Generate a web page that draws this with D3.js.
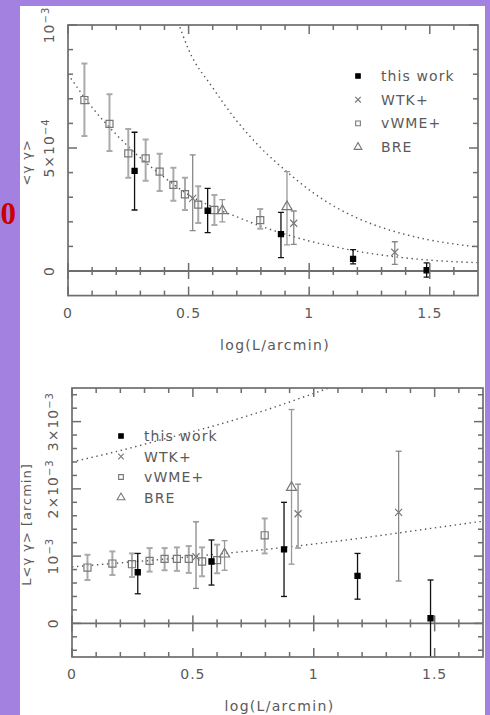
<!DOCTYPE html>
<html>
<head>
<meta charset="utf-8">
<script src="https://cdn.jsdelivr.net/npm/d3@7"></script>
<style>
  html, body { margin: 0; padding: 0; background: #a381e0; }
  svg { display: block; }
  text { font-family: "DejaVu Sans", sans-serif; fill: #5a5a5a; }
</style>
</head>
<body>
<svg id="chart" width="490" height="715"></svg>
<script>
// ---------- data: log(L/arcmin), value, lower error, upper error ----------
// upper panel: <γγ>
const thisWorkTop = [
  [0.276, 4.07e-4, 2.48e-4, 5.64e-4],
  [0.579, 2.45e-4, 1.56e-4, 3.36e-4],
  [0.883, 1.50e-4, 0.54e-4, 2.38e-4],
  [1.182, 0.49e-4, 0.29e-4, 0.87e-4],
  [1.487, 0.03e-4, -0.25e-4, 0.33e-4]
];
const wtkTop = [
  [0.517, 2.95e-4, 1.64e-4, 4.72e-4],
  [0.936, 1.94e-4, 1.08e-4, 2.44e-4],
  [1.355, 0.76e-4, 0.27e-4, 1.19e-4]
];
const vwmeTop = [
  [0.068, 6.95e-4, 5.49e-4, 8.44e-4],
  [0.172, 5.98e-4, 4.88e-4, 7.18e-4],
  [0.250, 4.78e-4, 3.79e-4, 5.77e-4],
  [0.322, 4.58e-4, 3.67e-4, 5.35e-4],
  [0.380, 4.04e-4, 3.25e-4, 4.77e-4],
  [0.437, 3.50e-4, 2.86e-4, 4.20e-4],
  [0.485, 3.12e-4, 2.48e-4, 3.79e-4],
  [0.540, 2.70e-4, 1.95e-4, 3.45e-4],
  [0.607, 2.48e-4, 1.87e-4, 3.09e-4],
  [0.797, 2.07e-4, 1.72e-4, 2.52e-4]
];
const breTop = [
  [0.640, 2.45e-4, 2.00e-4, 2.90e-4],
  [0.908, 2.61e-4, 1.06e-4, 4.04e-4]
];
// model curves, upper panel
const modelHighTop = [
  [0.45, 10.3e-4], [0.5, 9.0e-4], [0.6, 7.45e-4], [0.7, 6.1e-4], [0.8, 5.0e-4],
  [0.9, 4.1e-4], [1.0, 3.3e-4], [1.1, 2.65e-4], [1.2, 2.15e-4], [1.3, 1.77e-4],
  [1.4, 1.48e-4], [1.5, 1.26e-4], [1.6, 1.10e-4], [1.7, 0.97e-4]
];
const modelLowTop = [
  [0.0, 8.0e-4], [0.1, 6.65e-4], [0.2, 5.55e-4], [0.3, 4.6e-4], [0.4, 3.8e-4],
  [0.5, 3.1e-4], [0.6, 2.6e-4], [0.7, 2.2e-4], [0.8, 1.82e-4], [0.9, 1.5e-4],
  [1.0, 1.22e-4], [1.1, 1.0e-4], [1.2, 0.8e-4], [1.3, 0.65e-4], [1.4, 0.53e-4],
  [1.5, 0.44e-4], [1.6, 0.38e-4], [1.7, 0.34e-4]
];

// lower panel: L<γγ> [arcmin]
const thisWorkBot = [
  [0.272, 0.76e-3, 0.44e-3, 1.04e-3],
  [0.577, 0.92e-3, 0.57e-3, 1.24e-3],
  [0.877, 1.10e-3, 0.40e-3, 1.80e-3],
  [1.181, 0.705e-3, 0.36e-3, 1.04e-3],
  [1.483, 0.076e-3, -0.52e-3, 0.645e-3]
];
const wtkBot = [
  [0.513, 0.99e-3, 0.52e-3, 1.51e-3],
  [0.935, 1.63e-3, 1.12e-3, 2.07e-3],
  [1.351, 1.65e-3, 0.63e-3, 2.56e-3]
];
const vwmeBot = [
  [0.064, 0.83e-3, 0.645e-3, 1.02e-3],
  [0.167, 0.89e-3, 0.72e-3, 1.07e-3],
  [0.248, 0.88e-3, 0.69e-3, 1.04e-3],
  [0.321, 0.93e-3, 0.77e-3, 1.12e-3],
  [0.383, 0.96e-3, 0.79e-3, 1.12e-3],
  [0.434, 0.96e-3, 0.78e-3, 1.13e-3],
  [0.483, 0.96e-3, 0.75e-3, 1.15e-3],
  [0.538, 0.92e-3, 0.70e-3, 1.13e-3],
  [0.600, 0.94e-3, 0.745e-3, 1.17e-3],
  [0.797, 1.31e-3, 1.04e-3, 1.56e-3]
];
const breBot = [
  [0.631, 1.03e-3, 0.79e-3, 1.23e-3],
  [0.908, 2.02e-3, 0.88e-3, 3.18e-3]
];
const modelHighBot = [
  [0.0, 2.40e-3], [0.2, 2.57e-3], [0.4, 2.76e-3], [0.6, 2.95e-3],
  [0.8, 3.17e-3], [1.0, 3.42e-3], [1.1, 3.55e-3]
];
const modelLowBot = [
  [0.0, 0.84e-3], [0.2, 0.90e-3], [0.4, 0.96e-3], [0.6, 1.03e-3], [0.8, 1.10e-3],
  [1.0, 1.18e-3], [1.2, 1.27e-3], [1.4, 1.37e-3], [1.6, 1.47e-3], [1.7, 1.52e-3]
];

// ---------- axis ticks and labels ----------
const xMajor = [0, 0.5, 1, 1.5];
const xMajorText = ["0", "0.5", "1", "1.5"];
const xMinor = [0.1, 0.2, 0.3, 0.4, 0.6, 0.7, 0.8, 0.9, 1.1, 1.2, 1.3, 1.4, 1.6];
const yMajorTop = [0, 5e-4, 1e-3];
const yMajorTopText = [["0", ""], ["5×10", "−4"], ["10", "−3"]];
const yMinorTop = [1e-4, 2e-4, 3e-4, 4e-4, 6e-4, 7e-4, 8e-4, 9e-4];
const yMajorBot = [0, 1e-3, 2e-3, 3e-3];
const yMajorBotText = [["0", ""], ["10", "−3"], ["2×10", "−3"], ["3×10", "−3"]];
const yMinorBot = [-4e-4, -2e-4, 2e-4, 4e-4, 6e-4, 8e-4, 1.2e-3, 1.4e-3, 1.6e-3, 1.8e-3,
                   2.2e-3, 2.4e-3, 2.6e-3, 2.8e-3, 3.2e-3, 3.4e-3];
const legendNames = ["this work", "WTK+", "vWME+", "BRE"];
const xTitle = "log(L/arcmin)";

// ---------- page ----------
const svg = d3.select("#chart");
svg.append("rect").attr("width", 490).attr("height", 715).attr("fill", "#a381e0");
svg.append("rect").attr("x", 20).attr("y", 6).attr("width", 465).attr("height", 709).attr("fill", "#fff");
svg.append("text").text("0")
  .attr("x", 16).attr("y", 224).attr("text-anchor", "end")
  .style("font-family", "'Liberation Serif', serif").style("font-weight", "bold")
  .style("font-size", "31px").style("fill", "#cc0000");

const FRAME = "#6e6e6e";

const styles = {
  thisWork: { type: d3.symbolSquare, size: 26, fill: "#000", stroke: "#000", bar: "#111", barW: 1.3, legendSize: 20 },
  wtk:      { type: d3.symbolTimes,  size: 34, fill: "none", stroke: "#777", bar: "#888", barW: 1.3, legendSize: 22 },
  vwme:     { type: d3.symbolSquare, size: 50, fill: "none", stroke: "#777", bar: "#aaa", barW: 2.0, legendSize: 22 },
  bre:      { type: d3.symbolTriangle, size: 44, fill: "none", stroke: "#777", bar: "#999", barW: 1.3, legendSize: 26 }
};

function supLabel(t, parts) {
  t.append("tspan").text(parts[0]);
  if (parts[1]) t.append("tspan").attr("dy", "-0.5em").style("font-size", "10px").text(parts[1]);
}

// tick marks drawn as thin filled bars, collected per panel
function tickMarks(p, x, y) {
  const bars = [];
  const vx = (vals, py, len, dir) => vals.forEach(v =>
    bars.push({ x: x(v) - 0.75, y: dir > 0 ? py : py - len, w: 1.5, h: len }));
  const hy = (vals, px, len, dir) => vals.forEach(v =>
    bars.push({ x: dir > 0 ? px : px - len, y: y(v) - 0.75, w: len, h: 1.5 }));
  vx(xMinor, p.bottom, 5, -1);
  vx(xMajor, p.bottom, 9, -1);
  vx(xMinor, p.top, 5, 1);
  vx(xMajor, p.top, 9, 1);
  hy(p.yMinor, p.left, 5, 1);
  hy(p.yMajor, p.left, 9, 1);
  hy(p.yMinor, p.right, 5, -1);
  hy(p.yMajor, p.right, 9, -1);
  const y0 = y(0);
  vx(xMinor, y0 - 4, 8, 1);
  vx(xMajor, y0 - 8, 16, 1);
  svg.append("g").attr("fill", FRAME).selectAll(null).data(bars).enter().append("rect")
    .attr("x", d => d.x).attr("y", d => d.y).attr("width", d => d.w).attr("height", d => d.h);
}

function drawPanel(p) {
  const x = d3.scaleLinear().domain([0, 1.7]).range([p.left, p.right]);
  const y = d3.scaleLinear().domain(p.yDomain).range([p.bottom, p.top]);
  const g = svg.append("g");
  const clipId = "clip" + p.id;
  svg.append("clipPath").attr("id", clipId).append("rect")
    .attr("x", p.left).attr("y", p.top).attr("width", p.right - p.left).attr("height", p.bottom - p.top);

  // zero line
  const y0 = y(0);
  g.append("line").attr("x1", p.left).attr("x2", p.right).attr("y1", y0).attr("y2", y0)
    .attr("stroke", FRAME).attr("stroke-width", 1.8);

  // model curves
  const line = d3.line().x(d => x(d[0])).y(d => y(d[1])).curve(d3.curveMonotoneX);
  const cg = g.append("g").attr("clip-path", `url(#${clipId})`);
  p.curves.forEach(c => {
    cg.append("path").attr("d", line(c)).attr("fill", "none")
      .attr("stroke", "#555").attr("stroke-width", 1.4).attr("stroke-dasharray", "1.4,3.6");
  });

  // data: error bars then symbols
  const dg = g.append("g").attr("clip-path", `url(#${clipId})`);
  p.series.forEach(s => {
    const st = styles[s.style];
    const bars = dg.append("g").attr("stroke", st.bar).attr("stroke-width", st.barW);
    s.data.forEach(d => {
      const cx = x(d[0]);
      bars.append("line").attr("x1", cx).attr("x2", cx).attr("y1", y(d[2])).attr("y2", y(d[3]));
      [d[2], d[3]].forEach(v => bars.append("line")
        .attr("x1", cx - 3).attr("x2", cx + 3).attr("y1", y(v)).attr("y2", y(v)));
    });
  });
  p.series.forEach(s => {
    const st = styles[s.style];
    dg.selectAll(null).data(s.data).enter().append("path")
      .attr("transform", d => `translate(${x(d[0])},${y(d[1])})`)
      .attr("d", d3.symbol(st.type, st.size)())
      .attr("fill", st.fill === "none" ? "#fff" : st.fill)
      .attr("fill-opacity", st.fill === "none" ? 0 : 1)
      .attr("stroke", st.stroke).attr("stroke-width", 1.2);
  });

  // frame
  g.append("rect").attr("x", p.left).attr("y", p.top)
    .attr("width", p.right - p.left).attr("height", p.bottom - p.top)
    .attr("fill", "none").attr("stroke", FRAME).attr("stroke-width", 1.7);

  // x tick labels
  g.selectAll(null).data(xMajor).enter().append("text")
    .attr("x", d => x(d)).attr("y", p.bottom + 22)
    .attr("text-anchor", "middle").style("font-size", "14px").style("letter-spacing", "1px")
    .text((d, i) => xMajorText[i]);
  g.append("text").attr("x", (p.left + p.right) / 2 + 2).attr("y", p.bottom + 54)
    .attr("text-anchor", "middle").style("font-size", "14px").style("letter-spacing", "1.3px")
    .text(xTitle);

  // y tick labels, rotated
  p.yMajor.forEach((v, i) => {
    const lx = p.left - 14, ly = y(v);
    const t = g.append("text").attr("x", lx).attr("y", ly)
      .attr("transform", `rotate(-90,${lx},${ly})`)
      .attr("text-anchor", "middle").style("font-size", "14px").style("letter-spacing", "1px");
    supLabel(t, p.yText[i]);
  });
  // y title
  const tx = 31, ty = (p.top + p.bottom) / 2 + 2;
  g.append("text").attr("x", tx).attr("y", ty).attr("transform", `rotate(-90,${tx},${ty})`)
    .attr("text-anchor", "middle").style("font-size", "13px").style("letter-spacing", "1px")
    .text(p.yTitle);

  // legend
  const lg = g.append("g");
  ["thisWork", "wtk", "vwme", "bre"].forEach((k, i) => {
    const st = styles[k];
    const ly = p.legend.y + i * p.legend.dy;
    lg.append("path").attr("transform", `translate(${p.legend.x},${ly})`)
      .attr("d", d3.symbol(st.type, st.legendSize)())
      .attr("fill", st.fill === "none" ? "none" : st.fill)
      .attr("stroke", st.stroke).attr("stroke-width", 1.1);
    lg.append("text").attr("x", p.legend.x + 23).attr("y", ly + 5)
      .style("font-size", "14px").style("letter-spacing", "1.1px").text(legendNames[i]);
  });

  tickMarks(p, x, y);
}

drawPanel({
  id: "top", left: 68, right: 478, top: 25, bottom: 295.6,
  yDomain: [-1e-4, 1e-3], yMinor: yMinorTop, yMajor: yMajorTop, yText: yMajorTopText,
  yTitle: "<γ γ>",
  curves: [modelHighTop, modelLowTop],
  series: [
    { style: "vwme", data: vwmeTop },
    { style: "wtk", data: wtkTop },
    { style: "bre", data: breTop },
    { style: "thisWork", data: thisWorkTop }
  ],
  legend: { x: 358, y: 76, dy: 23.7 }
});

drawPanel({
  id: "bot", left: 72, right: 483, top: 388, bottom: 657,
  yDomain: [-0.5e-3, 3.5e-3], yMinor: yMinorBot, yMajor: yMajorBot, yText: yMajorBotText,
  yTitle: "L<γ γ> [arcmin]",
  curves: [modelHighBot, modelLowBot],
  series: [
    { style: "vwme", data: vwmeBot },
    { style: "wtk", data: wtkBot },
    { style: "bre", data: breBot },
    { style: "thisWork", data: thisWorkBot }
  ],
  legend: { x: 121, y: 436, dy: 20.5 }
});
</script>
</body>
</html>
